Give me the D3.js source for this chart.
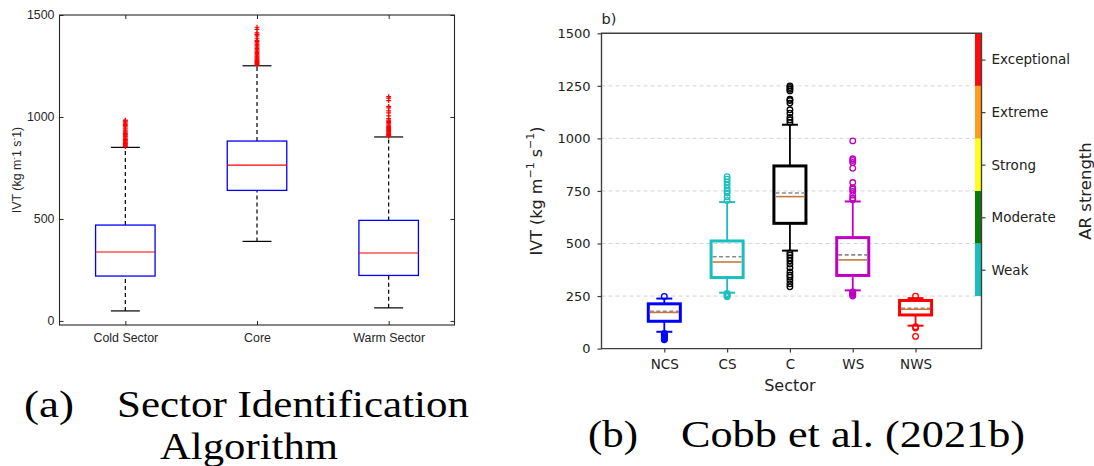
<!DOCTYPE html>
<html><head><meta charset="utf-8">
<script src="https://cdn.jsdelivr.net/npm/d3@7"></script>
<style>body{margin:0;background:#fff} svg{display:block}</style>
</head><body>
<svg id="chart" width="1094" height="466"></svg>
<script>
// ---------------- Panel (a) data ----------------
const catsA = ["Cold Sector", "Core", "Warm Sector"];
const whiskLowA = [49, 390, 64];
const q1A = [220, 640, 223];
const medianA = [338, 764, 333];
const q3A = [470, 882, 493];
const whiskHighA = [851, 1251, 902];
const outliersColdA = [855, 858, 862, 866, 870, 873, 877, 881, 885, 889, 893, 897, 902, 906, 911, 915, 920, 925, 930, 935, 941, 946, 952, 958, 964, 970, 976, 981, 985];
const outliersCoreA = [1255, 1259, 1263, 1267, 1271, 1276, 1280, 1285, 1290, 1295, 1300, 1305, 1311, 1317, 1323, 1329, 1335, 1342, 1349, 1356, 1363, 1370, 1376, 1386, 1398, 1405, 1412, 1430, 1440];
const outliersWarmA = [905, 909, 913, 917, 921, 925, 929, 934, 939, 944, 949, 954, 960, 966, 972, 978, 985, 992, 1005, 1020, 1030, 1045, 1052, 1080, 1092, 1100];
const yTicksA = [0, 500, 1000, 1500];

// ---------------- Panel (b) data ----------------
const catsB = ["NCS", "CS", "C", "WS", "NWS"];
const whiskLowB = [80, 266, 466, 277, 109];
const q1B = [130, 338, 596, 348, 160];
const medianB = [172, 412, 723, 422, 187];
const meanB = [177, 437, 740, 446, 192];
const q3B = [213, 512, 869, 528, 229];
const whiskHighB = [238, 697, 1065, 700, 240];
const outliersNCS = [248, 72, 68, 64, 60, 56, 52, 48, 45, 42];
const outliersCS = [705, 722, 740, 750, 762, 778, 792, 806, 818, 262, 256, 251, 247];
const outliersC = [1076, 1088, 1100, 1120, 1136, 1168, 1180, 1186, 1226, 1234, 1242, 1250, 455, 445, 432, 418, 402, 385, 365, 350, 340, 325, 308, 294];
const outliersWS = [708, 716, 730, 748, 758, 766, 790, 858, 885, 895, 903, 988, 270, 266, 262, 258, 254, 250];
const outliersNWS = [249, 104, 98, 58];
const yTicksB = [0, 250, 500, 750, 1000, 1250, 1500];
const gridB = [250, 500, 750, 1000, 1250];
const arLabels = ["Weak", "Moderate", "Strong", "Extreme", "Exceptional"];
const arLower = [250, 500, 750, 1000, 1250];
const arUpper = [500, 750, 1000, 1250, 1500];

// ---------------- styles ----------------
const colorsB = ["#0000ff", "#1cbfbf", "#000000", "#c000c0", "#ff0000"];
const arColors = ["#1cbfbf", "#087a08", "#ffff1a", "#ff9d1c", "#ff0a0a"];
const sansA = "'Liberation Sans', Arial, sans-serif";
const sansB = "'DejaVu Sans', sans-serif";
const serif = "'Liberation Serif', 'Times New Roman', serif";

const svg = d3.select("#chart");

// =============== Panel (a) ===============
const xA = d3.scaleLinear().domain([0.5, 3.5]).range([59.5, 454.5]);
const yA = d3.scaleLinear().domain([-20, 1500]).range([325, 15]);
const gA = svg.append("g");
const inkA = "#262626";

gA.append("rect")
  .attr("x", xA(0.5)).attr("y", yA(1500))
  .attr("width", xA(3.5) - xA(0.5)).attr("height", yA(-20) - yA(1500))
  .attr("fill", "none").attr("stroke", inkA).attr("stroke-width", 1.1);

function styleAxisA(g) {
  g.select(".domain").remove();
  g.selectAll(".tick line").attr("stroke", inkA).attr("stroke-width", 1);
  g.selectAll("text").attr("fill", inkA).style("font-family", sansA).style("font-size", "12.4px");
}
gA.append("g").attr("transform", `translate(${xA(0.5)},0)`)
  .call(d3.axisLeft(yA).tickValues(yTicksA).tickSize(-4).tickPadding(5).tickFormat(d3.format("d"))).call(styleAxisA);
gA.append("g").attr("transform", `translate(${xA(3.5)},0)`)
  .call(d3.axisRight(yA).tickValues(yTicksA).tickSize(-4).tickFormat("")).call(styleAxisA);
gA.append("g").attr("transform", `translate(0,${yA(-20)})`)
  .call(d3.axisBottom(xA).tickValues([1, 2, 3]).tickSize(-4).tickPadding(8).tickFormat(d => catsA[d - 1])).call(styleAxisA);
gA.append("g").attr("transform", `translate(0,${yA(1500)})`)
  .call(d3.axisTop(xA).tickValues([1, 2, 3]).tickSize(-4).tickFormat("")).call(styleAxisA);

const yLabA = gA.append("text")
  .attr("transform", `translate(17,${(yA(-20) + yA(1500)) / 2}) rotate(-90)`)
  .attr("text-anchor", "middle").attr("dominant-baseline", "central")
  .attr("fill", inkA).style("font-family", sansA).style("font-size", "12.4px");
yLabA.append("tspan").text("IVT (kg m");
yLabA.append("tspan").attr("dy", -4).style("font-size", "8px").text("-");
yLabA.append("tspan").attr("dy", 4).text("1 s");
yLabA.append("tspan").attr("dy", -4).style("font-size", "8px").text("-");
yLabA.append("tspan").attr("dy", 4).text("1)");

const bwA = 0.226, capA = 0.11;
const outA = [outliersColdA, outliersCoreA, outliersWarmA];
catsA.forEach((c, i) => {
  const x = i + 1;
  const g = gA.append("g");
  g.append("line").attr("x1", xA(x)).attr("x2", xA(x)).attr("y1", yA(q3A[i])).attr("y2", yA(whiskHighA[i]))
    .attr("stroke", "#000").attr("stroke-width", 1.2).attr("stroke-dasharray", "4,3");
  g.append("line").attr("x1", xA(x)).attr("x2", xA(x)).attr("y1", yA(whiskLowA[i])).attr("y2", yA(q1A[i]))
    .attr("stroke", "#000").attr("stroke-width", 1.2).attr("stroke-dasharray", "4,3");
  [whiskLowA[i], whiskHighA[i]].forEach(v => {
    g.append("line").attr("x1", xA(x - capA)).attr("x2", xA(x + capA)).attr("y1", yA(v)).attr("y2", yA(v))
      .attr("stroke", "#000").attr("stroke-width", 1.2);
  });
  g.append("rect").attr("x", xA(x - bwA)).attr("y", yA(q3A[i]))
    .attr("width", xA(x + bwA) - xA(x - bwA)).attr("height", yA(q1A[i]) - yA(q3A[i]))
    .attr("fill", "none").attr("stroke", "#0000ff").attr("stroke-width", 1.3);
  g.append("line").attr("x1", xA(x - bwA)).attr("x2", xA(x + bwA)).attr("y1", yA(medianA[i])).attr("y2", yA(medianA[i]))
    .attr("stroke", "#ff0000").attr("stroke-width", 1.2);
  g.selectAll("path.out").data(outA[i]).join("path").attr("class", "out")
    .attr("transform", v => `translate(${xA(x)},${yA(v)})`)
    .attr("d", "M-2.4,0H2.4M0,-2.4V2.4")
    .attr("stroke", "#ff0000").attr("stroke-width", 1.2).attr("fill", "none");
});

// =============== Panel (b) ===============
const xB = d3.scaleLinear().domain([0, 6.05]).range([601.5, 981.5]);
const yB = d3.scaleLinear().domain([0, 1500]).range([348.6, 33.3]);
const gB = svg.append("g");
const inkB = "#404040";

gB.selectAll("line.grid").data(gridB).join("line").attr("class", "grid")
  .attr("x1", xB(0)).attr("x2", xB(6.05)).attr("y1", d => yB(d)).attr("y2", d => yB(d))
  .attr("stroke", "#d4d4d4").attr("stroke-width", 1).attr("stroke-dasharray", "4,3");

// colorbar of AR strength
gB.selectAll("rect.ar").data(arLower).join("rect").attr("class", "ar")
  .attr("x", xB(6.05) - 6.5).attr("width", 6.5)
  .attr("y", (d, i) => yB(arUpper[i])).attr("height", (d, i) => yB(d) - yB(arUpper[i]))
  .attr("fill", (d, i) => arColors[i]);

gB.append("path")
  .attr("d", `M${xB(0)},${yB(1500)}H${xB(6.05)}V${yB(0)}H${xB(0)}Z`)
  .attr("fill", "none").attr("stroke", inkB).attr("stroke-width", 1.4);

function styleAxisB(g, size) {
  g.select(".domain").remove();
  g.selectAll(".tick line").attr("stroke", inkB).attr("stroke-width", 1.2);
  g.selectAll("text").attr("fill", "#222").style("font-family", sansB).style("font-size", size);
}
gB.append("g").attr("transform", `translate(${xB(0)},0)`)
  .call(d3.axisLeft(yB).tickValues(yTicksB).tickSize(4).tickPadding(7).tickFormat(d3.format("d")))
  .call(g => styleAxisB(g, "13px"));
gB.append("g").attr("transform", `translate(0,${yB(0)})`)
  .call(d3.axisBottom(xB).tickValues([1, 2, 3, 4, 5]).tickSize(4).tickPadding(7).tickFormat(d => catsB[d - 1]))
  .call(g => styleAxisB(g, "13.5px"));
const arMid = arLower.map((d, i) => (d + arUpper[i]) / 2);
gB.append("g").attr("transform", `translate(${xB(6.05)},0)`)
  .call(d3.axisRight(yB).tickValues(arMid).tickSize(4).tickPadding(6).tickFormat((d, i) => arLabels[i]))
  .call(g => styleAxisB(g, "13.5px"));

gB.append("text").attr("x", xB(0)).attr("y", 24).attr("fill", "#222")
  .style("font-family", sansB).style("font-size", "14.5px").text("b)");
gB.append("text").attr("x", xB(3)).attr("y", 391).attr("text-anchor", "middle").attr("fill", "#222")
  .style("font-family", sansB).style("font-size", "16px").text("Sector");
gB.append("text").attr("transform", `translate(1085,${(yB(0) + yB(1500)) / 2}) rotate(-90)`)
  .attr("text-anchor", "middle").attr("dominant-baseline", "central").attr("fill", "#222")
  .style("font-family", sansB).style("font-size", "16.5px").text("AR strength");
const yLabB = gB.append("text")
  .attr("transform", `translate(536,${(yB(0) + yB(1500)) / 2}) rotate(-90)`)
  .attr("text-anchor", "middle").attr("dominant-baseline", "central").attr("fill", "#222")
  .style("font-family", sansB).style("font-size", "16px");
yLabB.append("tspan").text("IVT (kg m");
yLabB.append("tspan").attr("dy", -6).style("font-size", "11px").text("\u22121");
yLabB.append("tspan").attr("dy", 6).text(" s");
yLabB.append("tspan").attr("dy", -6).style("font-size", "11px").text("\u22121");
yLabB.append("tspan").attr("dy", 6).text(")");

const bwB = 0.255, capB = 0.127;
const outB = [outliersNCS, outliersCS, outliersC, outliersWS, outliersNWS];
catsB.forEach((c, i) => {
  const x = i + 1, col = colorsB[i];
  const g = gB.append("g");
  g.append("line").attr("x1", xB(x)).attr("x2", xB(x)).attr("y1", yB(q3B[i])).attr("y2", yB(whiskHighB[i]))
    .attr("stroke", col).attr("stroke-width", 1.8);
  g.append("line").attr("x1", xB(x)).attr("x2", xB(x)).attr("y1", yB(whiskLowB[i])).attr("y2", yB(q1B[i]))
    .attr("stroke", col).attr("stroke-width", 1.8);
  [whiskLowB[i], whiskHighB[i]].forEach(v => {
    g.append("line").attr("x1", xB(x - capB)).attr("x2", xB(x + capB)).attr("y1", yB(v)).attr("y2", yB(v))
      .attr("stroke", col).attr("stroke-width", 2);
  });
  g.append("rect").attr("x", xB(x - bwB)).attr("y", yB(q3B[i]))
    .attr("width", xB(x + bwB) - xB(x - bwB)).attr("height", yB(q1B[i]) - yB(q3B[i]))
    .attr("fill", "none").attr("stroke", col).attr("stroke-width", 3);
  g.append("line").attr("x1", xB(x - bwB) + 1.5).attr("x2", xB(x + bwB) - 1.5).attr("y1", yB(meanB[i])).attr("y2", yB(meanB[i]))
    .attr("stroke", "#8a8a8a").attr("stroke-width", 1.6).attr("stroke-dasharray", "4,2.5");
  g.append("line").attr("x1", xB(x - bwB) + 1.5).attr("x2", xB(x + bwB) - 1.5).attr("y1", yB(medianB[i])).attr("y2", yB(medianB[i]))
    .attr("stroke", "#c57b3f").attr("stroke-width", 1.6);
  g.selectAll("circle").data(outB[i]).join("circle")
    .attr("cx", xB(x)).attr("cy", v => yB(v)).attr("r", 2.8)
    .attr("fill", "none").attr("stroke", col).attr("stroke-width", 1.3);
});

// =============== Captions ===============
const capG = svg.append("g").attr("fill", "#000").style("font-family", serif).style("font-size", "37px");
capG.append("text").attr("x", 24).attr("y", 417).attr("textLength", 50).attr("lengthAdjust", "spacingAndGlyphs").text("(a)");
capG.append("text").attr("x", 117).attr("y", 417).attr("textLength", 352).attr("lengthAdjust", "spacingAndGlyphs").text("Sector Identification");
capG.append("text").attr("x", 160).attr("y", 459).attr("textLength", 178).attr("lengthAdjust", "spacingAndGlyphs").text("Algorithm");
capG.append("text").attr("x", 588).attr("y", 447).attr("textLength", 50).attr("lengthAdjust", "spacingAndGlyphs").text("(b)");
capG.append("text").attr("x", 681).attr("y", 447).attr("textLength", 344).attr("lengthAdjust", "spacingAndGlyphs").text("Cobb et al. (2021b)");
</script>
</body></html>
